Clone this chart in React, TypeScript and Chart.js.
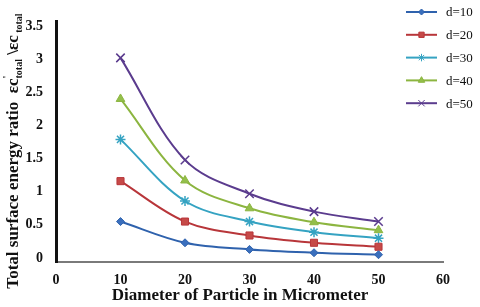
import React, { useEffect, useRef } from "react";
import { Chart, registerables } from "chart.js";
import { drawPoint } from "chart.js/helpers";

Chart.register(...registerables);

const diameters = [10, 20, 30, 40, 50];
const seriesLabels = ["d=10", "d=20", "d=30", "d=40", "d=50"];
const d10 = [0.55, 0.23, 0.13, 0.08, 0.05];
const d20 = [1.16, 0.55, 0.34, 0.23, 0.17];
const d30 = [1.79, 0.86, 0.55, 0.39, 0.3];
const d40 = [2.4, 1.17, 0.75, 0.54, 0.42];
const d50 = [3.02, 1.48, 0.97, 0.7, 0.55];
const yTicks = [0, 0.5, 1, 1.5, 2, 2.5, 3, 3.5];
const xTitle = "Diameter of Particle in Micrometer";
const yTitleMain = "Total surface energy ratio  ";

const colors = ["#2f62ad", "#b8363a", "#35a3c2", "#8cb540", "#5b3c8e"];
const fills = ["#3a6fbd", "#c64a48", "#4fb3cf", "#93bf4b", "#7a5aa6"];
const styles = ["rectRot", "rect", "star", "triangle", "crossRot"];
const radii = [4, 5, 5, 5, 6];

const SERIF = "'Liberation Serif', 'Times New Roman', serif";

const overlayPlugin = {
  id: "overlay",
  afterDraw(chart: any) {
    const ctx = chart.ctx;
    ctx.save();
    ctx.fillStyle = "#111";
    ctx.font = `bold 17px ${SERIF}`;
    ctx.textAlign = "center";
    ctx.textBaseline = "middle";
    ctx.fillText(xTitle, 240, 296);

    const parts: [string, string, number][] = [
      [yTitleMain, `bold 17px ${SERIF}`, 0],
      ["\u03b5c", `bold 17px ${SERIF}`, 0],
      ["'", `bold 10px ${SERIF}`, -7],
      ["total", `bold 10px ${SERIF}`, 5],
      [" \\", `bold 17px ${SERIF}`, 0],
      ["\u03b5c", `bold 17px ${SERIF}`, 0],
      [" total", `bold 10px ${SERIF}`, 5],
    ];
    let total = 0;
    for (const p of parts) {
      ctx.font = p[1];
      if (p[0] !== "'") total += ctx.measureText(p[0]).width;
    }
    ctx.translate(14, 151);
    ctx.rotate(-Math.PI / 2);
    ctx.textAlign = "left";
    ctx.textBaseline = "middle";
    let x = -total / 2;
    for (const p of parts) {
      ctx.font = p[1];
      ctx.fillText(p[0], x, p[2]);
      if (p[0] !== "'") x += ctx.measureText(p[0]).width;
    }
    ctx.restore();

    ctx.save();
    chart.data.datasets.forEach((ds: any, i: number) => {
      const y = 12 + i * 22.8;
      ctx.strokeStyle = ds.borderColor;
      ctx.lineWidth = 2;
      ctx.beginPath();
      ctx.moveTo(406, y);
      ctx.lineTo(437, y);
      ctx.stroke();
      ctx.fillStyle = ds.pointBackgroundColor;
      ctx.strokeStyle = ds.pointBorderColor;
      ctx.lineWidth = 1;
      drawPoint(ctx, { pointStyle: ds.pointStyle, radius: ds.pointRadius * 0.75, borderWidth: 1, rotation: 0 } as any, 421.5, y);
      ctx.fillStyle = "#111";
      ctx.font = `13px ${SERIF}`;
      ctx.textAlign = "left";
      ctx.textBaseline = "middle";
      ctx.fillText(ds.label, 446, y + 1);
    });
    ctx.restore();
  },
};

export default function App() {
  const ref = useRef<HTMLCanvasElement>(null);
  useEffect(() => {
    const all = [d10, d20, d30, d40, d50];
    const chart = new Chart(ref.current!, {
      type: "line",
      data: {
        datasets: all.map((vals, i) => ({
          label: seriesLabels[i],
          data: diameters.map((d, j) => ({ x: d, y: vals[j] })),
          borderColor: colors[i],
          backgroundColor: fills[i],
          pointBackgroundColor: fills[i],
          pointBorderColor: colors[i],
          pointStyle: styles[i],
          pointRadius: radii[i],
          pointBorderWidth: i === 2 || i === 4 ? 1.5 : 1,
          borderWidth: 2,
          tension: 0.35,
          fill: false,
        })),
      },
      options: {
        animation: false,
        responsive: false,
        layout: { padding: { left: 0, right: 37, top: 3, bottom: 0 } },
        plugins: { legend: { display: false }, tooltip: { enabled: false } },
        scales: {
          x: {
            type: "linear",
            min: 0,
            max: 60,
            grid: { display: false, drawTicks: false },
            border: { display: true, color: "#7a7a7a", width: 2 },
            ticks: {
              stepSize: 10,
              padding: 10,
              color: "#111",
              font: { family: SERIF, size: 14, weight: "bold" },
            },
            afterFit: (s: any) => {
              s.height = 45;
            },
          },
          y: {
            min: -0.06,
            max: 3.57,
            grid: { display: false, drawTicks: false },
            border: { display: true, color: "#111", width: 3 },
            afterBuildTicks: (s: any) => {
              s.ticks = yTicks.map((v) => ({ value: v }));
            },
            ticks: {
              padding: 13,
              color: "#111",
              font: { family: SERIF, size: 14, weight: "bold" },
              callback: (v: any) => String(v),
            },
            afterFit: (s: any) => {
              s.width = 56;
            },
          },
        },
      },
      plugins: [overlayPlugin],
    } as any);
    return () => chart.destroy();
  }, []);
  return (
    <div style={{ position: "absolute", left: 0, top: 0, width: 480, height: 307, background: "#fff" }}>
      <canvas ref={ref} width={480} height={307} />
    </div>
  );
}
